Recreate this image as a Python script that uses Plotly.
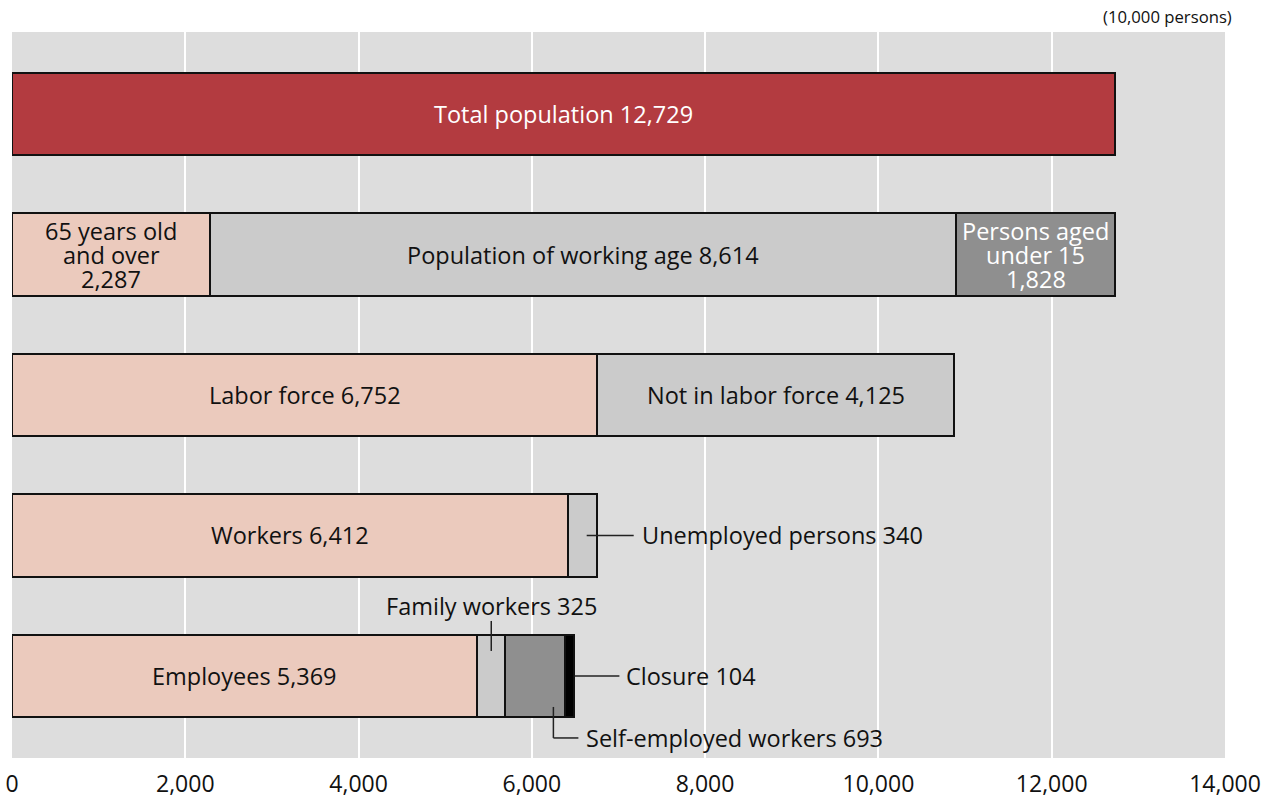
import plotly.graph_objects as go

# Population breakdown (unit: 10,000 persons)
total_labels = ["Total population"]
total_values = [12729]

age_labels = ["65 years old and over", "Population of working age", "Persons aged under 15"]
age_values = [2287, 8614, 1828]

labor_labels = ["Labor force", "Not in labor force"]
labor_values = [6752, 4125]

worker_labels = ["Workers", "Unemployed persons"]
worker_values = [6412, 340]

employment_labels = ["Employees", "Family workers", "Self-employed workers", "Closure"]
employment_values = [5369, 325, 693, 104]

x_ticks = [0, 2000, 4000, 6000, 8000, 10000, 12000, 14000]
unit_label = "(10,000 persons)"

RED = "#b33b40"
PINK = "#ebcabd"
LIGHT = "#cbcbcb"
DARK = "#8f8f8f"
BLACK = "#000000"
FONT = "Open Sans"
TXT = 23.5

rows = [
    (total_values, [RED]),
    (age_values, [PINK, LIGHT, DARK]),
    (labor_values, [PINK, LIGHT]),
    (worker_values, [PINK, LIGHT]),
    (employment_values, [PINK, LIGHT, DARK, BLACK]),
]

fig = go.Figure()
starts = []
for r, (vals, cols) in enumerate(rows):
    base = 0
    row_starts = []
    for v, c in zip(vals, cols):
        fig.add_trace(go.Bar(
            x=[v], base=[base], y=[r], orientation="h", width=0.59,
            marker=dict(color=c, line=dict(color="#111111", width=2)),
            showlegend=False, hoverinfo="skip",
        ))
        row_starts.append(base)
        base += v
    starts.append(row_starts)

ann = []


def inside(x, y, lines, color="#111111"):
    n = len(lines)
    for i, line in enumerate(lines):
        ann.append(dict(x=x, y=y, xref="x", yref="y", text=line, showarrow=False,
                        xanchor="center", yanchor="middle",
                        yshift=((n - 1) / 2 - i) * 24,
                        font=dict(family=FONT, size=TXT, color=color)))


def mid(r, i):
    return starts[r][i] + rows[r][0][i] / 2


inside(mid(0, 0), 0, [f"{total_labels[0]} {total_values[0]:,}"], "white")
inside(mid(1, 0), 1, ["65 years old", "and over", f"{age_values[0]:,}"])
inside(mid(1, 1), 1, [f"{age_labels[1]} {age_values[1]:,}"])
inside(mid(1, 2), 1, ["Persons aged", "under 15", f"{age_values[2]:,}"], "white")
inside(mid(2, 0), 2, [f"{labor_labels[0]} {labor_values[0]:,}"])
inside(mid(2, 1), 2, [f"{labor_labels[1]} {labor_values[1]:,}"])
inside(mid(3, 0), 3, [f"{worker_labels[0]} {worker_values[0]:,}"])
inside(mid(4, 0), 4, [f"{employment_labels[0]} {employment_values[0]:,}"])

shapes = []
LC = dict(color="#222222", width=1.5)


def seg(xa, ya, x0, y0, x1, y1):
    shapes.append(dict(type="line", xref="x", yref="y", xsizemode="pixel", ysizemode="pixel",
                       xanchor=xa, yanchor=ya, x0=x0, y0=y0, x1=x1, y1=y1, line=LC))


def outside(x, y, text, xshift, yshift, anchor="left"):
    ann.append(dict(x=x, y=y, xref="x", yref="y", text=text, showarrow=False,
                    xanchor=anchor, yanchor="middle", xshift=xshift, yshift=yshift,
                    font=dict(family=FONT, size=TXT, color="#111111")))


# Unemployed persons
ux = starts[3][1] + worker_values[1] * 0.65
seg(ux, 3, 0, 0, 47, 0)
outside(ux, 3, f"{worker_labels[1]} {worker_values[1]:,}", 53, 0)

# Family workers
fx = mid(4, 1)
seg(fx, 4, 0, 55, 0, 25)
outside(fx, 4, f"{employment_labels[1]} {employment_values[1]:,}", 0, 70, "center")

# Closure
cx = starts[4][3] + employment_values[3]
seg(cx, 4, 0, 0, 45, 0)
outside(cx, 4, f"{employment_labels[3]} {employment_values[3]:,}", 50, 0)

# Self-employed workers
sx = starts[4][2] + employment_values[2]
seg(sx, 4, -12, -31, -12, -62)
seg(sx, 4, -12, -62, 13, -62)
outside(sx, 4, f"{employment_labels[2]} {employment_values[2]:,}", 19, -62)

ann.append(dict(x=1, y=1, xref="paper", yref="paper", text=unit_label, showarrow=False,
                xanchor="right", yanchor="middle", yshift=16, xshift=9,
                font=dict(family=FONT, size=16.7, color="#111111")))

fig.update_layout(
    width=1273, height=801,
    margin=dict(l=12, r=48, t=32, b=43),
    paper_bgcolor="white", plot_bgcolor="#dddddd",
    barmode="overlay", bargap=0,
    annotations=ann, shapes=shapes,
    xaxis=dict(range=[0, 14000], tickvals=x_ticks, ticktext=[f"{t:,}" for t in x_ticks],
               showgrid=True, gridcolor="white", gridwidth=2, zeroline=False,
               showline=False, ticks="", ticklabelstandoff=10, automargin=False,
               tickfont=dict(family=FONT, size=23, color="#111111")),
    yaxis=dict(range=[4.584, -0.584], showticklabels=False, showgrid=False,
               zeroline=False, showline=False, ticks="", automargin=False),
)

fig.write_html("out.html")
